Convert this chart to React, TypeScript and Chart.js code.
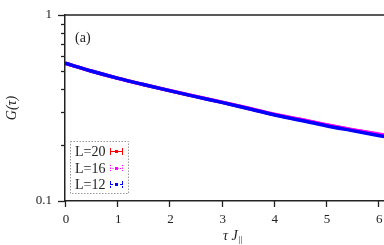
import React, { useEffect, useRef } from "react";
import { Chart, registerables } from "chart.js";

Chart.register(...registerables);

const tau = [0, 0.5, 1, 1.5, 2, 2.5, 3, 3.5, 4, 4.5, 5, 5.5, 6, 6.5];
const gL20 = [0.55, 0.5, 0.458, 0.423, 0.392, 0.365, 0.34, 0.315, 0.292, 0.274, 0.256, 0.241, 0.228, 0.215];
const gL16 = [0.55, 0.5, 0.458, 0.423, 0.393, 0.365, 0.34, 0.316, 0.293, 0.275, 0.257, 0.242, 0.229, 0.216];
const gL12 = [0.55, 0.5, 0.458, 0.423, 0.392, 0.364, 0.339, 0.314, 0.291, 0.272, 0.254, 0.239, 0.225, 0.212];
const xTicks = [0, 1, 2, 3, 4, 5, 6];
const yTicks = [0.1, 0.2, 0.3, 0.4, 0.5, 0.6, 0.7, 0.8, 0.9, 1];
const yMajor = [0.1, 1];
const yLabels = ["0.1", "1"];
const legendLabels = ["L=20", "L=16", "L=12"];
const colors = ["#ff0000", "#ff00ff", "#0000ff"];

const FONT = "'Liberation Serif', 'DejaVu Serif', serif";

const decor = {
  id: "decor",
  afterDraw(chart: any) {
    const ctx = chart.ctx;
    const { left, right, top, bottom } = chart.chartArea;
    const xs = chart.scales.x;
    const ys = chart.scales.y;
    ctx.save();
    ctx.strokeStyle = "#222";
    ctx.lineWidth = 1.5;
    ctx.beginPath();
    ctx.moveTo(left, top);
    ctx.lineTo(right, top);
    ctx.stroke();
    ctx.lineWidth = 1.3;
    for (const v of yTicks) {
      const py = Math.round(ys.getPixelForValue(v)) + 0.5;
      const len = yMajor.includes(v) ? 7 : 4;
      ctx.beginPath();
      ctx.moveTo(left - len, py);
      ctx.lineTo(left, py);
      ctx.stroke();
    }
    for (const v of xTicks) {
      const px = Math.round(xs.getPixelForValue(v)) + 0.5;
      ctx.beginPath();
      ctx.moveTo(px, bottom);
      ctx.lineTo(px, bottom + 6);
      ctx.stroke();
    }
    ctx.fillStyle = "#222";
    ctx.font = `13px ${FONT}`;
    ctx.textAlign = "center";
    ctx.textBaseline = "middle";
    for (const v of xTicks) {
      ctx.fillText(String(v), xs.getPixelForValue(v) + 1, bottom + 19);
    }
    ctx.textAlign = "right";
    yMajor.forEach((v, i) => {
      ctx.fillText(yLabels[i], left - 13, ys.getPixelForValue(v));
    });
    ctx.font = `italic 14px ${FONT}`;
    ctx.textAlign = "center";
    ctx.save();
    ctx.translate(12, 108);
    ctx.rotate(-Math.PI / 2);
    ctx.fillText("G(τ)", 0, 0);
    ctx.restore();
    ctx.textAlign = "left";
    ctx.fillText("τ J", 223, 236);
    const w = ctx.measureText("τ J").width;
    ctx.font = `9px ${FONT}`;
    ctx.fillText("||", 223 + w + 1, 240);
    ctx.font = `14px ${FONT}`;
    ctx.fillText("(a)", 75, 38);
    ctx.strokeStyle = "#999";
    ctx.lineWidth = 1;
    ctx.setLineDash([1.5, 1.5]);
    ctx.strokeRect(70.5, 141.5, 58, 52);
    ctx.setLineDash([]);
    const rows = [151, 168, 184];
    for (let i = 0; i < legendLabels.length; i++) {
      const y = rows[i];
      ctx.fillStyle = "#222";
      ctx.font = `14px ${FONT}`;
      ctx.textAlign = "left";
      ctx.textBaseline = "middle";
      ctx.fillText(legendLabels[i], 75, y + 1);
      ctx.strokeStyle = colors[i];
      ctx.fillStyle = colors[i];
      ctx.lineWidth = 1;
      if (i === 0) ctx.setLineDash([]);
      else if (i === 1) ctx.setLineDash([1, 1.5]);
      else ctx.setLineDash([3, 2]);
      ctx.beginPath();
      ctx.moveTo(110, y + 0.5);
      ctx.lineTo(123, y + 0.5);
      ctx.moveTo(110.5, y - 3);
      ctx.lineTo(110.5, y + 4);
      ctx.moveTo(122.5, y - 3);
      ctx.lineTo(122.5, y + 4);
      ctx.stroke();
      ctx.setLineDash([]);
      ctx.fillRect(115, y - 1, 3, 3);
    }
    ctx.restore();
  },
};

export default function App() {
  const ref = useRef<HTMLCanvasElement>(null);
  useEffect(() => {
    if (!ref.current) return;
    const mk = (d: number[], c: string, order: number) => ({
      data: tau.map((t, i) => ({ x: t, y: d[i] })),
      borderColor: c,
      backgroundColor: c,
      borderWidth: 3.5,
      pointRadius: 0,
      order,
      cubicInterpolationMode: "monotone" as const,
    });
    const chart = new Chart(ref.current, {
      type: "line",
      data: {
        datasets: [mk(gL20, colors[0], 2), mk(gL16, colors[1], 1), mk(gL12, colors[2], 0)],
      },
      plugins: [decor],
      options: {
        animation: false,
        responsive: false,
        devicePixelRatio: 1,
        layout: { padding: { top: 15, right: 0, left: 0, bottom: 0 } },
        plugins: { legend: { display: false }, tooltip: { enabled: false } },
        scales: {
          x: {
            type: "linear",
            min: 0,
            max: 6.11,
            afterBuildTicks: (s: any) => {
              s.ticks = xTicks.map((v) => ({ value: v }));
            },
            afterFit: (s: any) => {
              s.height = 44;
            },
            grid: { display: false, drawTicks: false },
            border: { display: true, color: "#222", width: 1.5 },
            ticks: { display: false },
          },
          y: {
            type: "logarithmic",
            min: 0.1,
            max: 1,
            afterBuildTicks: (s: any) => {
              s.ticks = yTicks.map((v) => ({ value: v }));
            },
            afterFit: (s: any) => {
              s.width = 65;
            },
            grid: { display: false, drawTicks: false },
            border: { display: true, color: "#222", width: 1.5 },
            ticks: { display: false },
          },
        },
      },
    });
    return () => chart.destroy();
  }, []);
  return (
    <div style={{ position: "fixed", left: 0, top: 0, width: 384, height: 245, background: "#fff" }}>
      <canvas ref={ref} width={384} height={245} style={{ width: 384, height: 245 }} />
    </div>
  );
}
